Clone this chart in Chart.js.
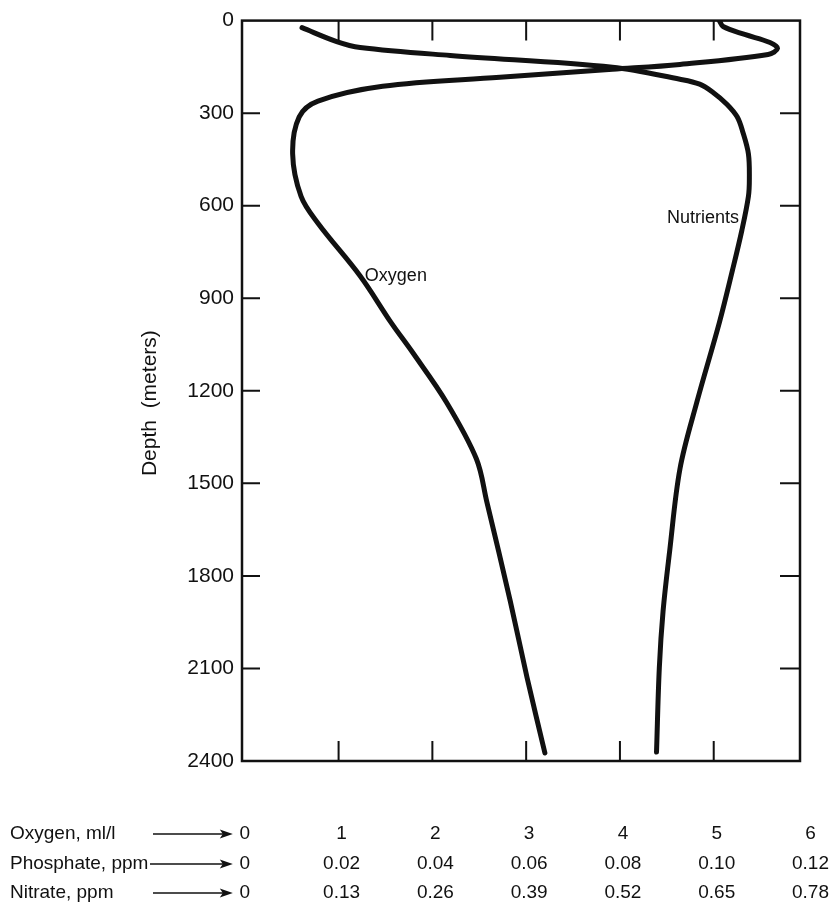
<!DOCTYPE html>
<html>
<head>
<meta charset="utf-8">
<script src="https://cdn.jsdelivr.net/npm/chart.js@4.4.1/dist/chart.umd.min.js"></script>
<style>
  html, body { margin: 0; padding: 0; background: #fff; }
  #wrap { width: 832px; height: 905px; }
</style>
</head>
<body>
<div id="wrap"><canvas id="c" width="832" height="905"></canvas></div>
<script>
// Vertical profiles: depth in metres, value on the oxygen (ml/l) scale
const oxygenDepth = [0, 19, 45, 71, 90, 110, 142, 158, 184, 213, 261, 312, 432, 570, 657, 828, 979, 1076, 1237, 1421, 1559, 1881, 2130, 2374];
const oxygenValue = [5.06, 5.10, 5.33, 5.60, 5.68, 5.58, 4.64, 3.92, 2.72, 1.47, 0.78, 0.58, 0.51, 0.60, 0.78, 1.23, 1.56, 1.79, 2.15, 2.47, 2.58, 2.83, 3.01, 3.20];

const nutrientDepth = [23, 68, 87, 113, 151, 190, 206, 232, 271, 312, 361, 432, 512, 570, 680, 809, 979, 1237, 1453, 1720, 1914, 2097, 2371];
const nutrientValue = [0.61, 0.98, 1.23, 2.19, 3.92, 4.64, 4.85, 4.99, 5.14, 5.25, 5.31, 5.37, 5.38, 5.37, 5.30, 5.20, 5.06, 4.82, 4.64, 4.53, 4.46, 4.42, 4.39];

// Axis ticks
const depthTicks = [0, 300, 600, 900, 1200, 1500, 1800, 2100, 2400];
const scaleSteps = [0, 1, 2, 3, 4, 5, 6];

// Equivalent concentration scales printed under the plot
const rowNames = ['Oxygen, ml/l', 'Phosphate, ppm', 'Nitrate, ppm'];
const oxygenLabels = ['0', '1', '2', '3', '4', '5', '6'];
const phosphateLabels = ['0', '0.02', '0.04', '0.06', '0.08', '0.10', '0.12'];
const nitrateLabels = ['0', '0.13', '0.26', '0.39', '0.52', '0.65', '0.78'];

const FONT = '"Liberation Sans", Arial, Helvetica, sans-serif';
const INK = '#111';

const toPoints = (vals, depths) => vals.map((v, i) => ({ x: v, y: depths[i] }));

// Box around the plot with tick marks pointing inwards
const framePlugin = {
  id: 'frame',
  beforeDatasetsDraw(chart) {
    const { ctx, chartArea: a, scales: { x, y } } = chart;
    ctx.save();
    ctx.strokeStyle = INK;
    ctx.lineWidth = 2.5;
    ctx.strokeRect(a.left, a.top, a.right - a.left, a.bottom - a.top);
    ctx.lineWidth = 2;
    ctx.beginPath();
    x.ticks.forEach(t => {
      const px = x.getPixelForValue(t.value);
      if (px <= a.left + 4 || px >= a.right - 4) return;
      ctx.moveTo(px, a.top); ctx.lineTo(px, a.top + 20);
      ctx.moveTo(px, a.bottom); ctx.lineTo(px, a.bottom - 20);
    });
    y.ticks.forEach(t => {
      const py = y.getPixelForValue(t.value);
      if (py <= a.top + 4 || py >= a.bottom - 4) return;
      ctx.moveTo(a.left, py); ctx.lineTo(a.left + 18, py);
      ctx.moveTo(a.right, py); ctx.lineTo(a.right - 20, py);
    });
    ctx.stroke();
    ctx.restore();
  }
};

// Axis title, curve names and the three-row concentration scale
const textPlugin = {
  id: 'texts',
  afterDraw(chart) {
    const { ctx, chartArea: a, scales: { x, y } } = chart;
    ctx.save();
    ctx.fillStyle = INK;
    ctx.textBaseline = 'middle';

    ctx.save();
    ctx.translate(150, y.getPixelForValue(1240));
    ctx.rotate(-Math.PI / 2);
    ctx.textAlign = 'center';
    ctx.font = '21px ' + FONT;
    ctx.fillText('Depth  (meters)', 0, 0);
    ctx.restore();

    ctx.font = '18px ' + FONT;
    ctx.textAlign = 'left';
    ctx.fillText('Oxygen', x.getPixelForValue(1.28), y.getPixelForValue(828));
    ctx.textAlign = 'right';
    ctx.fillText('Nutrients', x.getPixelForValue(5.27), y.getPixelForValue(641));

    const rows = [oxygenLabels, phosphateLabels, nitrateLabels];
    const rowY = [a.bottom + 73, a.bottom + 103, a.bottom + 132];
    ctx.font = '19px ' + FONT;
    rows.forEach((labels, r) => {
      const yy = rowY[r];
      ctx.textAlign = 'left';
      ctx.fillText(rowNames[r], 10, yy);
      // arrow pointing at the zero of each scale
      const x0 = r === 1 ? 150 : 153;
      const x1 = x.getPixelForValue(0) - 12;
      ctx.strokeStyle = INK;
      ctx.lineWidth = 1.6;
      ctx.beginPath();
      ctx.moveTo(x0, yy); ctx.lineTo(x1 - 8, yy);
      ctx.stroke();
      ctx.beginPath();
      ctx.moveTo(x1, yy);
      ctx.lineTo(x1 - 13, yy - 4.5);
      ctx.lineTo(x1 - 10, yy);
      ctx.lineTo(x1 - 13, yy + 4.5);
      ctx.closePath();
      ctx.fill();
      ctx.textAlign = 'center';
      scaleSteps.forEach((v, i) => {
        ctx.fillText(labels[i], x.getPixelForValue(v) + (i === 0 ? 0 : 3), yy);
      });
    });
    ctx.restore();
  }
};

const curveStyle = {
  borderColor: INK,
  borderWidth: 5,
  pointRadius: 0,
  pointHoverRadius: 0,
  showLine: true,
  tension: 0.35,
  borderCapStyle: 'round',
  borderJoinStyle: 'round',
  fill: false
};

new Chart(document.getElementById('c'), {
  type: 'scatter',
  data: {
    datasets: [
      Object.assign({ label: 'Oxygen', data: toPoints(oxygenValue, oxygenDepth) }, curveStyle),
      Object.assign({ label: 'Nutrients', data: toPoints(nutrientValue, nutrientDepth) }, curveStyle)
    ]
  },
  options: {
    responsive: false,
    animation: false,
    devicePixelRatio: 1,
    layout: { padding: { top: 16, right: 32, left: 0, bottom: 0 } },
    plugins: { legend: { display: false }, tooltip: { enabled: false } },
    scales: {
      x: {
        type: 'linear',
        min: -0.03,
        max: 5.92,
        afterBuildTicks: s => { s.ticks = scaleSteps.map(v => ({ value: v })); },
        afterFit: s => { s.height = 144; },
        ticks: { display: false },
        grid: { display: false, drawTicks: false },
        border: { display: false }
      },
      y: {
        type: 'linear',
        reverse: true,
        min: 0,
        max: 2400,
        afterBuildTicks: s => { s.ticks = depthTicks.map(v => ({ value: v })); },
        afterFit: s => { s.width = 242; },
        ticks: {
          color: INK,
          font: { family: FONT, size: 21 },
          padding: 8,
          callback: v => String(v)
        },
        grid: { display: false, drawTicks: false },
        border: { display: false }
      }
    }
  },
  plugins: [framePlugin, textPlugin]
});
</script>
</body>
</html>
